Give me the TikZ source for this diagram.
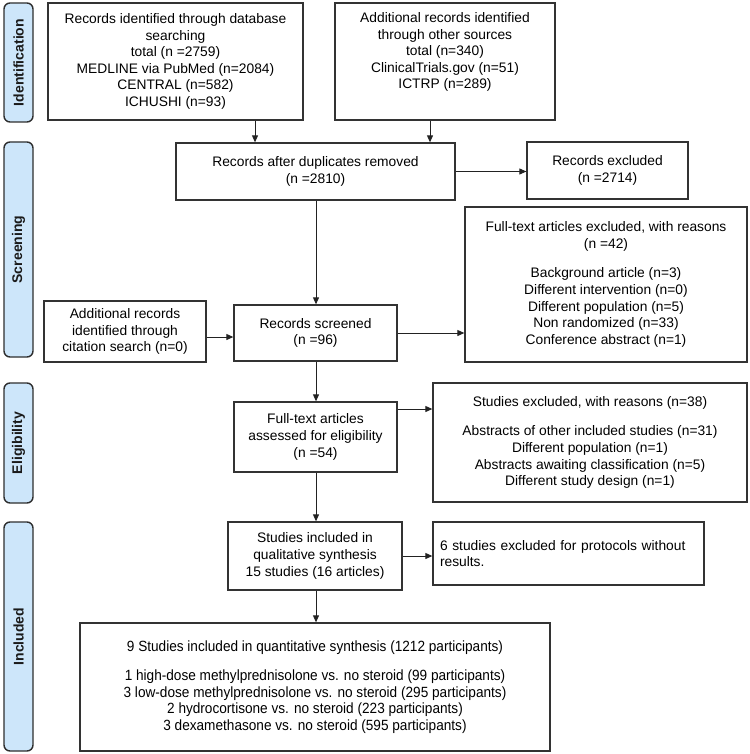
\documentclass[tikz,border=0pt]{standalone}
\usepackage{fontspec}
\setmainfont{Liberation Sans}
\newfontfamily\narrowfont{Liberation Sans}[FakeStretch=0.92]
\usetikzlibrary{arrows.meta,calc}
\definecolor{boxline}{HTML}{333333}
\definecolor{arrline}{HTML}{222222}
\definecolor{phasefill}{HTML}{CDE6FA}
\definecolor{phaseline}{HTML}{2E2E2E}
\definecolor{phasetext}{HTML}{1A1A1A}
\tikzset{
  flowbox/.style={draw=boxline, line width=1.3pt, inner sep=2pt, align=center,
    font=\fontsize{13.8}{16.6}\selectfont},
  lowtext/.style={execute at begin node={\rule{0pt}{18pt}}},
  phasebox/.style={draw=phaseline, fill=phasefill, line width=1.4pt, rounded corners=6pt,
    rotate=90, inner sep=0pt, font=\bfseries\fontsize{14}{16}\selectfont, text=phasetext,
    minimum height=29pt},
  arr/.style={draw=arrline, line width=0.9pt, -{Triangle[length=7pt,width=6pt]}}
}
\begin{document}
\begin{tikzpicture}[x=1pt,y=-1pt]
\useasboundingbox (0,0) rectangle (749,754);
% phase bars
\node[phasebox, minimum width=119pt] (pid) at (18.5,62.5) {Identification};
\node[phasebox, minimum width=215pt] (psc) at (18.5,249.5) {Screening};
\node[phasebox, minimum width=120pt] (pel) at (18.5,443) {Eligibility};
\node[phasebox, minimum width=229pt] (pin) at (18.5,636.5) {Included};
% boxes
\node[flowbox, lowtext, minimum width=255pt, minimum height=117pt] (db) at (175.5,61.5)
  {Records identified through database\\searching\\total (n =2759)\\MEDLINE via PubMed (n=2084)\\CENTRAL (n=582)\\ICHUSHI (n=93)};
\node[flowbox, lowtext, minimum width=220pt, minimum height=117pt] (oth) at (445,61.5)
  {Additional records identified\\through other sources\\total (n=340)\\ClinicalTrials.gov (n=51)\\ICTRP (n=289)\\\strut};
\node[flowbox, minimum width=279pt, minimum height=57pt] (dup) at (315.5,171.5)
  {Records after duplicates removed\\(n =2810)};
\node[flowbox, minimum width=161pt, minimum height=57pt] (rexc) at (607.5,170.5)
  {Records excluded\\(n =2714)};
\node[flowbox, minimum width=162pt, minimum height=61pt] (cit) at (125,331.5)
  {Additional records\\identified through\\citation search (n=0)};
\node[flowbox, minimum width=163pt, minimum height=56pt] (scr) at (315.5,333)
  {Records screened\\(n =96)};
\node[flowbox, minimum width=282pt, minimum height=155pt] (ftx) at (606,284.5)
  {Full-text articles excluded, with reasons\\(n =42)\\[13pt]Background article (n=3)\\Different intervention (n=0)\\Different population (n=5)\\Non randomized (n=33)\\Conference abstract (n=1)};
\node[flowbox, minimum width=163pt, minimum height=70pt] (ass) at (315.5,437)
  {Full-text articles\\assessed for eligibility\\(n =54)};
\node[flowbox, minimum width=314pt, minimum height=119pt] (sex) at (590,442.5)
  {Studies excluded, with reasons (n=38)\\[13pt]Abstracts of other included studies (n=31)\\Different population (n=1)\\Abstracts awaiting classification (n=5)\\Different study design (n=1)};
\node[flowbox, minimum width=174pt, minimum height=68pt] (qual) at (315,556)
  {Studies included in\\qualitative synthesis\\15 studies (16 articles)};
\node[flowbox, minimum width=271pt, minimum height=63pt, align=left, text width=257pt] (six) at (568.5,553.5)
  {6 studies excluded for protocols without\\results.};
\node[flowbox, minimum width=470pt, minimum height=128pt, font=\narrowfont\fontsize{14.8}{16.6}\selectfont] (quant) at (315,687)
  {9 Studies included in quantitative synthesis (1212 participants)\\[13pt]1 high-dose methylprednisolone vs. no steroid (99 participants)\\3 low-dose methylprednisolone vs. no steroid (295 participants)\\2 hydrocortisone vs. no steroid (223 participants)\\3 dexamethasone vs. no steroid (595 participants)};
% helper coordinates
\coordinate (xa) at (255,0);
\coordinate (xo) at (430,0);
\coordinate (xm) at (316,0);
\coordinate (yc) at (0,337);
\coordinate (ye) at (0,409);
% connectors
\draw[arr] (xa |- db.south) -- (xa |- dup.north);
\draw[arr] (xo |- oth.south) -- (xo |- dup.north);
\draw[arr] (dup.east) -- (dup.east -| rexc.west);
\draw[arr] (xm |- dup.south) -- (xm |- scr.north);
\draw[arr] (cit.east |- yc) -- (scr.west |- yc);
\draw[arr] (scr.east) -- (scr.east -| ftx.west);
\draw[arr] (xm |- scr.south) -- (xm |- ass.north);
\draw[arr] (ass.east |- ye) -- (sex.west |- ye);
\draw[arr] (xm |- ass.south) -- (xm |- qual.north);
\draw[arr] (qual.east) -- (qual.east -| six.west);
\draw[arr] (xm |- qual.south) -- (xm |- quant.north);
\end{tikzpicture}
\end{document}
